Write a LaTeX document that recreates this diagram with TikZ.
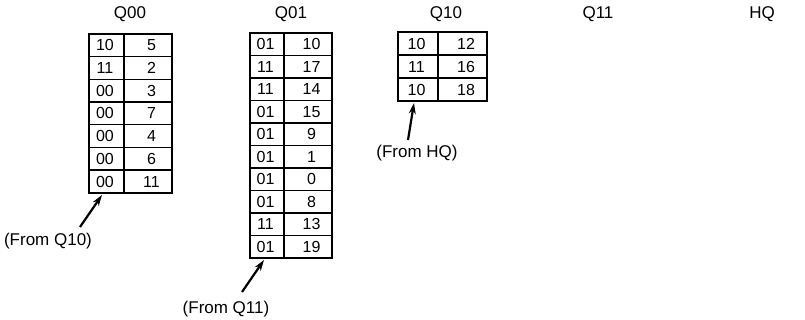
\documentclass[tikz,border=0pt]{standalone}
\usepackage{fontspec}
\setmainfont{Liberation Sans}
\usetikzlibrary{arrows.meta}
\tikzset{
  cellbox/.style={draw, line width=1.4pt, inner sep=0pt, font=\fontsize{16}{17}\selectfont},
  lcell/.style={cellbox, execute at end node={\hspace*{3pt}}},
  rcell/.style={cellbox, execute at begin node={\hspace*{7pt}}},
  title/.style={font=\fontsize{17}{18}\selectfont},
  fromlabel/.style={font=\fontsize{17}{18}\selectfont},
  fromarrow/.style={line width=2.2pt, -{Stealth[length=11pt,width=7pt]}}
}
% #1 name, #2 left, #3 divider, #4 right, #5 top, #6 row height, #7 rows
\newcommand{\qtable}[7]{%
  \foreach \a/\b [count=\i] in {#7} {
    \pgfmathsetmacro{\yc}{#5+(\i-0.5)*#6}
    \node[lcell, minimum width={(#3-#2)*1pt}, minimum height={#6*1pt}] (#1-L\i) at ({(#2+#3)/2},\yc) {\a};
    \node[rcell, minimum width={(#4-#3)*1pt}, minimum height={#6*1pt}] (#1-R\i) at ({(#3+#4)/2},\yc) {\b};
  }
}
\begin{document}
\begin{tikzpicture}[x=1pt,y=-1pt]
\useasboundingbox (0,0) rectangle (805,320);
% titles
\node[title] (tQ00) at (130,14) {Q00};
\node[title] (tQ01) at (291,14) {Q01};
\node[title] (tQ10) at (446,14) {Q10};
\node[title] (tQ11) at (598,14) {Q11};
\node[title] (tHQ)  at (762,14) {HQ};
% tables
\qtable{Q00}{89}{124}{172}{34}{22.7}{10/5,11/2,00/3,00/7,00/4,00/6,00/11}
\qtable{Q01}{250}{284}{332}{33}{22.5}{01/10,11/17,11/14,01/15,01/9,01/1,01/0,01/8,11/13,01/19}
\qtable{Q10}{398}{438}{487}{32}{23}{10/12,11/16,10/18}
% labels
\node[fromlabel] (fQ10) at (48,241) {(From Q10)};
\node[fromlabel] (fQ11) at (226,309) {(From Q11)};
\node[fromlabel] (fHQ)  at (417,153) {(From HQ)};
% arrows
\coordinate (a1s) at (80,227);  \coordinate (a1e) at (102,195);
\coordinate (a2s) at (242,292); \coordinate (a2e) at (264,260);
\coordinate (a3s) at (408,140); \coordinate (a3e) at (414,103);
\draw[fromarrow] (a1s) -- (a1e);
\draw[fromarrow] (a2s) -- (a2e);
\draw[fromarrow] (a3s) -- (a3e);
\end{tikzpicture}
\end{document}
